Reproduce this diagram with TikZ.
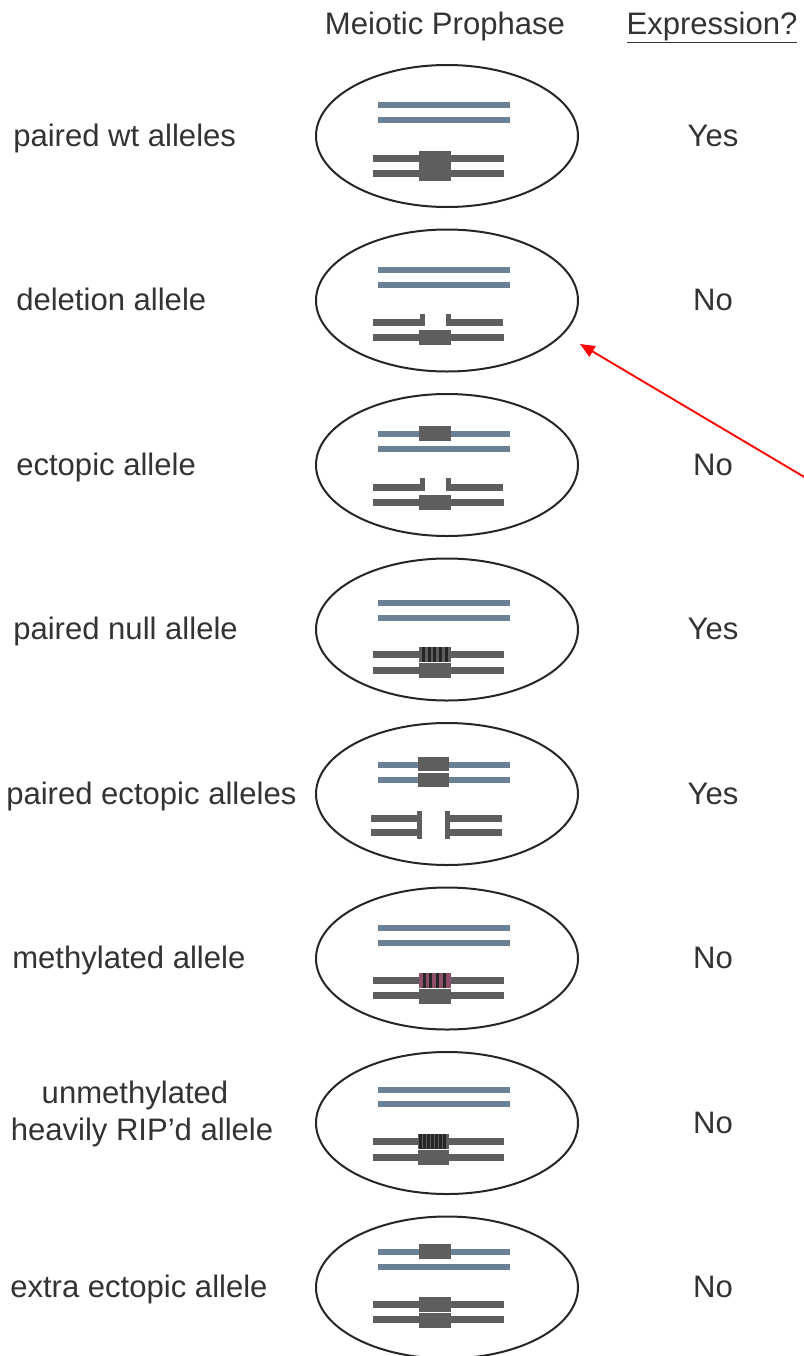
\documentclass[tikz,border=0pt]{standalone}
\usepackage{fontspec}
\setmainfont{Liberation Sans}
\usetikzlibrary{arrows.meta,shapes.geometric}

\definecolor{txt}{HTML}{333333}
\definecolor{blu}{HTML}{6A8195}
\definecolor{chr}{HTML}{5E5E5E}
\definecolor{meth}{HTML}{8E4F6B}

% homologue bars (blue) and allele bars (grey); #1 = bar centre y
\newcommand\BlueBar[1]{\fill[blu] (378,{#1-3}) rectangle (510,{#1+3});}
\newcommand\GreyBar[1]{\fill[chr] (373,{#1-3.5}) rectangle (504,{#1+3.5});}
% gene block sitting on a bar; #1 = y, #2 = fill colour
\newcommand\GeneBlock[2]{\fill[#2] (419,{#1-7.5}) rectangle (451,{#1+7.5});}
% black stripes across a block; #1 = y, #2 = list of x offsets
\newcommand\Stripes[2]{\foreach \sx in {#2}{\fill[black!85] ({419+\sx},{#1-7.5}) rectangle ({421.5+\sx},{#1+7.5});}}
% a bar broken by a deletion, with end caps from #2 to #3
\newcommand\BrokenBar[3]{%
  \fill[chr] (373,{#1-3.5}) rectangle (425,{#1+3.5});
  \fill[chr] (446,{#1-3.5}) rectangle (503,{#1+3.5});
  \fill[chr] (420,#2) rectangle (425,#3);
  \fill[chr] (446,#2) rectangle (451,#3);}

\tikzset{
  lbl/.style={font=\fontsize{23.3}{28}\selectfont, text=txt, inner sep=0pt},
  cell/.style={ellipse, draw=black!85, line width=1.5pt, inner sep=0pt,
    minimum width=196.5pt, minimum height=106.5pt},
  pointer/.style={draw=red, line width=1.4pt, -{Triangle[length=11pt,width=9pt]}}
}

\begin{document}
\begin{tikzpicture}[x=0.75pt,y=-0.75pt]
\useasboundingbox (0,0) rectangle (803,1356);
\fill[white] (0,0) rectangle (803,1356);

% column headings
\node[lbl, anchor=base] (hdMeiosis) at (445,34) {Meiotic Prophase};
\node[lbl, anchor=base] (hdExpr) at (712,34) {\underline{Expression?}};

% cells
\foreach \i/\cy in {1/136,2/300.5,3/465,4/629.5,5/794,6/958.5,7/1123,8/1287.5}
  \node[cell] (cell\i) at (447,\cy) {};

% 1 paired wt alleles
\node[lbl, anchor=base west] (lbl1) at (13,146) {paired wt alleles};
\node[lbl, anchor=base] (ans1) at (713,146) {Yes};
\BlueBar{105} \BlueBar{120}
\GreyBar{158} \GreyBar{173}
\GeneBlock{158}{chr} \GeneBlock{173.5}{chr}

% 2 deletion allele
\node[lbl, anchor=base west] (lbl2) at (16,310.5) {deletion allele};
\node[lbl, anchor=base] (ans2) at (713,310.5) {No};
\BlueBar{269.5} \BlueBar{284.5}
\BrokenBar{322.5}{313.5}{326}
\GreyBar{337.5} \GeneBlock{337.5}{chr}

% 3 ectopic allele
\node[lbl, anchor=base west] (lbl3) at (16,475) {ectopic allele};
\node[lbl, anchor=base] (ans3) at (713,475) {No};
\BlueBar{434} \BlueBar{449}
\GeneBlock{433}{chr}
\BrokenBar{487}{478}{490.5}
\GreyBar{502} \GeneBlock{502}{chr}

% 4 paired null allele
\node[lbl, anchor=base west] (lbl4) at (13,639.5) {paired null allele};
\node[lbl, anchor=base] (ans4) at (713,639.5) {Yes};
\BlueBar{603} \BlueBar{618}
\GreyBar{654.5} \GreyBar{670}
\GeneBlock{654.5}{chr} \Stripes{654.5}{3,9,14,20,26}
\GeneBlock{670.5}{chr}

% 5 paired ectopic alleles
\node[lbl, anchor=base west] (lbl5) at (6,804) {paired ectopic alleles};
\node[lbl, anchor=base] (ans5) at (713,804) {Yes};
\BlueBar{765} \BlueBar{779.5}
\fill[chr] (418,757) rectangle (449,771);
\fill[chr] (418,773) rectangle (449,787);
\fill[chr] (371,{818-3.5}) rectangle (422,{818+3.5});
\fill[chr] (371,{832.5-3.5}) rectangle (422,{832.5+3.5});
\fill[chr] (417,811) rectangle (422,839);
\fill[chr] (445,{818-3.5}) rectangle (502,{818+3.5});
\fill[chr] (445,{832.5-3.5}) rectangle (502,{832.5+3.5});
\fill[chr] (445,811) rectangle (450,839);

% 6 methylated allele
\node[lbl, anchor=base west] (lbl6) at (12,968.5) {methylated allele};
\node[lbl, anchor=base] (ans6) at (713,968.5) {No};
\BlueBar{928} \BlueBar{942.5}
\GreyBar{980} \GreyBar{995}
\GeneBlock{980}{meth} \Stripes{980}{4,10,17,24}
\GeneBlock{996}{chr}

% 7 unmethylated heavily RIP'd allele
\node[lbl, anchor=base] (lbl7a) at (135,1103) {unmethylated};
\node[lbl, anchor=base] (lbl7b) at (142,1140) {heavily RIP'd allele};
\node[lbl, anchor=base] (ans7) at (713,1133) {No};
\BlueBar{1090} \BlueBar{1104}
\GreyBar{1141} \GreyBar{1157}
\fill[chr] (418,{1141-7.5}) rectangle (449,{1141+7.5});
\foreach \sx in {1,5,9,13,17,21,25}
  \fill[black!85] ({418+\sx},{1141-7.5}) rectangle ({420.5+\sx},{1141+7.5});
\fill[chr] (418,{1157-7.5}) rectangle (449,{1157+7.5});

% 8 extra ectopic allele
\node[lbl, anchor=base west] (lbl8) at (10,1297.5) {extra ectopic allele};
\node[lbl, anchor=base] (ans8) at (713,1297.5) {No};
\BlueBar{1252} \BlueBar{1267}
\GeneBlock{1251}{chr}
\GreyBar{1304} \GreyBar{1319}
\GeneBlock{1304}{chr} \GeneBlock{1320}{chr}

% pointer from the right margin to the deletion cell
\coordinate (ptrTail) at (806,478);
\coordinate (ptrTip) at (580,344);
\draw[pointer] (ptrTail) -- (ptrTip);
\end{tikzpicture}
\end{document}
